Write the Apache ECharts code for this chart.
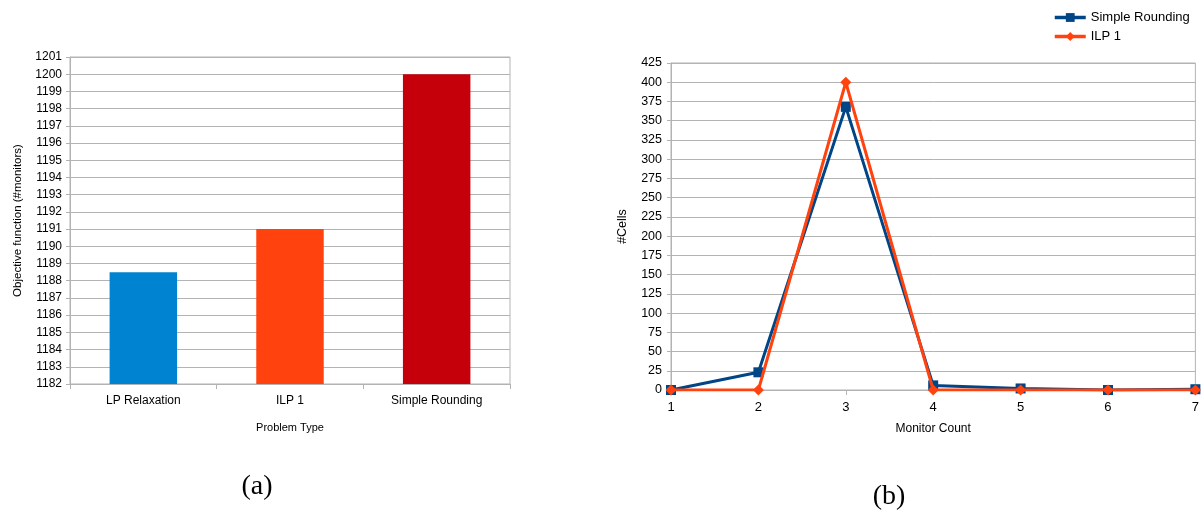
<!DOCTYPE html>
<html>
<head>
<meta charset="utf-8">
<script src="https://cdn.jsdelivr.net/npm/echarts@6/dist/echarts.min.js"></script>
<style>
  html, body { margin: 0; padding: 0; background: #fff; }
  #chart { width: 1202px; height: 510px; }
</style>
</head>
<body>
<div id="chart"></div>
<script>
// (a) objective value per problem type
const problemTypes = ['LP Relaxation', 'ILP 1', 'Simple Rounding'];
const objectiveValues = [1188.5, 1191, 1200];
const barColors = ['#0084d1', '#ff420e', '#c5000b'];

// (b) number of cells per monitor count
const monitorCounts = ['1', '2', '3', '4', '5', '6', '7'];
const simpleRoundingCells = [0, 23, 368, 6, 2, 0, 1];
const ilp1Cells = [0, 0, 400, 0, 0, 0, 0];

const gridLine = '#b3b3b3';
const textColor = '#000';
const font = 'Liberation Sans';
const plain = v => String(v);

const chart = echarts.init(document.getElementById('chart'), null, { renderer: 'canvas' });

chart.setOption({
  animation: false,
  textStyle: { fontFamily: font },
  grid: [
    { left: 70, right: 692, top: 57, bottom: 126, show: true, borderColor: gridLine, borderWidth: 1 },
    { left: 671, right: 6, top: 63, bottom: 120, show: true, borderColor: gridLine, borderWidth: 1 }
  ],
  legend: {
    orient: 'vertical',
    left: 1053,
    top: 11,
    padding: 0,
    itemWidth: 31,
    itemHeight: 11,
    itemGap: 6,
    lineStyle: { width: 3.5 },
    textStyle: { fontFamily: font, fontSize: 13, color: textColor, padding: [0, 0, 0, 0] },
    data: ['Simple Rounding', 'ILP 1']
  },
  xAxis: [
    {
      gridIndex: 0,
      type: 'category',
      data: problemTypes,
      name: 'Problem Type',
      nameLocation: 'middle',
      nameGap: 38,
      nameTextStyle: { fontFamily: font, fontSize: 11, color: textColor },
      axisLine: { lineStyle: { color: gridLine } },
      axisTick: { show: true, length: 5, lineStyle: { color: gridLine } },
      axisLabel: { fontFamily: font, fontSize: 12, color: textColor, margin: 11 },
      splitLine: { show: false }
    },
    {
      gridIndex: 1,
      type: 'category',
      data: monitorCounts,
      boundaryGap: false,
      name: 'Monitor Count',
      nameLocation: 'middle',
      nameGap: 33,
      nameTextStyle: { fontFamily: font, fontSize: 12, color: textColor },
      axisLine: { lineStyle: { color: gridLine } },
      axisTick: { show: true, length: 5, lineStyle: { color: gridLine } },
      axisLabel: { fontFamily: font, fontSize: 13, color: textColor, margin: 11 },
      splitLine: { show: false }
    }
  ],
  yAxis: [
    {
      gridIndex: 0,
      type: 'value',
      min: 1182,
      max: 1201,
      interval: 1,
      name: 'Objective function (#monitors)',
      nameLocation: 'middle',
      nameGap: 46,
      nameTextStyle: { fontFamily: font, fontSize: 11.5, color: textColor },
      axisLine: { show: true, lineStyle: { color: gridLine } },
      axisTick: { show: true, length: 4, lineStyle: { color: gridLine } },
      axisLabel: { fontFamily: font, fontSize: 12, color: textColor, margin: 8, formatter: plain },
      splitLine: { lineStyle: { color: gridLine, width: 1 } }
    },
    {
      gridIndex: 1,
      type: 'value',
      min: 0,
      max: 425,
      interval: 25,
      name: '#Cells',
      nameLocation: 'middle',
      nameGap: 42,
      nameTextStyle: { fontFamily: font, fontSize: 12.5, color: textColor },
      axisLine: { show: true, lineStyle: { color: gridLine } },
      axisTick: { show: true, length: 4, lineStyle: { color: gridLine } },
      axisLabel: { fontFamily: font, fontSize: 12.5, color: textColor, margin: 9, formatter: plain },
      splitLine: { lineStyle: { color: gridLine, width: 1 } }
    }
  ],
  series: [
    {
      name: 'Objective',
      type: 'bar',
      xAxisIndex: 0,
      yAxisIndex: 0,
      barWidth: '46%',
      data: objectiveValues.map((v, i) => ({ value: v, itemStyle: { color: barColors[i] } }))
    },
    {
      name: 'Simple Rounding',
      type: 'line',
      xAxisIndex: 1,
      yAxisIndex: 1,
      data: simpleRoundingCells,
      symbol: 'rect',
      symbolSize: 10,
      showAllSymbol: true,
      lineStyle: { color: '#004586', width: 3 },
      itemStyle: { color: '#004586' },
      z: 2
    },
    {
      name: 'ILP 1',
      type: 'line',
      xAxisIndex: 1,
      yAxisIndex: 1,
      data: ilp1Cells,
      symbol: 'diamond',
      symbolSize: 11,
      showAllSymbol: true,
      lineStyle: { color: '#ff420e', width: 3 },
      itemStyle: { color: '#ff420e' },
      z: 3
    }
  ],
  graphic: [
    {
      type: 'text',
      x: 257,
      y: 487,
      style: { text: '(a)', font: '28px "Liberation Serif"', fill: '#000', align: 'center', verticalAlign: 'middle', textAlign: 'center', textVerticalAlign: 'middle' }
    },
    {
      type: 'text',
      x: 889,
      y: 497,
      style: { text: '(b)', font: '28px "Liberation Serif"', fill: '#000', align: 'center', verticalAlign: 'middle', textAlign: 'center', textVerticalAlign: 'middle' }
    }
  ]
});
</script>
</body>
</html>
